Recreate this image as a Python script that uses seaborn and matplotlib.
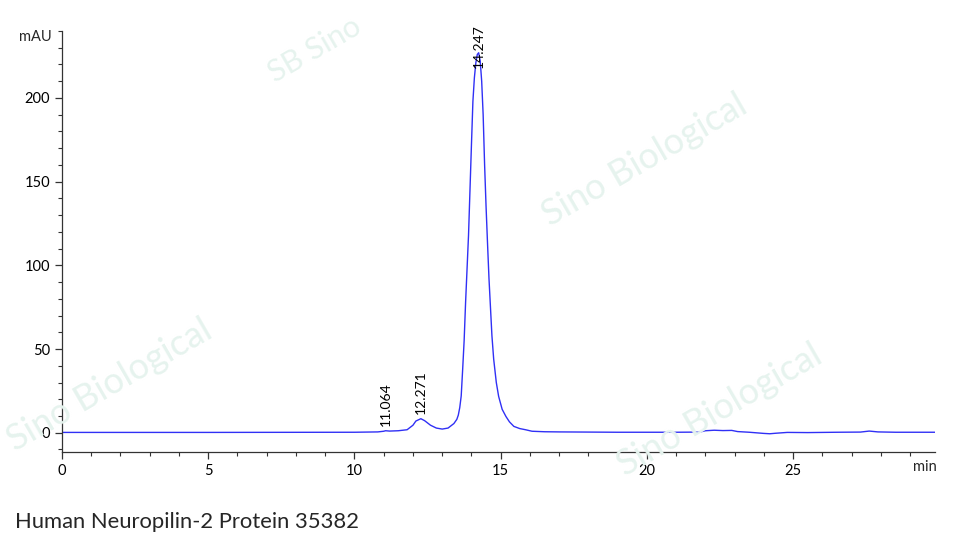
import matplotlib
matplotlib.use("Agg")
import matplotlib.pyplot as plt
import seaborn as sns
import pandas as pd
from matplotlib.ticker import MultipleLocator

# Chromatogram trace (minutes, mAU)
time_min = [0.0, 5.0, 10.0, 10.8, 11.0, 11.064, 11.2, 11.5, 11.8, 12.0, 12.1,
            12.271, 12.4, 12.6, 12.8, 13.0, 13.2, 13.4, 13.5, 13.55, 13.6,
            13.65, 13.7, 13.75, 13.8, 13.85, 13.9, 13.95, 14.0, 14.05, 14.1,
            14.15, 14.2, 14.247, 14.3, 14.35, 14.4, 14.45, 14.5, 14.55, 14.6,
            14.65, 14.7, 14.76, 14.85, 14.93, 15.05, 15.18, 15.3, 15.45, 15.65,
            15.85, 16.07, 16.5, 17.0, 18.0, 19.0, 20.0, 21.0, 21.8, 22.0, 22.3,
            22.6, 22.9, 23.1, 23.5, 24.0, 24.2, 24.4, 24.8, 25.5, 26.5, 27.3,
            27.6, 27.9, 28.5, 29.9]
absorbance = [0.2, 0.2, 0.3, 0.5, 0.9, 1.2, 1.0, 1.2, 1.8, 4.5, 7.0,
              8.4, 7.2, 4.5, 2.8, 2.2, 2.8, 5.5, 8.0, 10.5, 15,
              22, 38, 55, 78, 98, 118, 145, 172, 198, 212,
              221, 226, 227, 222, 210, 190, 160, 135, 113, 92,
              75, 58, 44, 30, 21.7, 14, 9.7, 6.5, 3.8, 2.5,
              1.8, 0.9, 0.6, 0.5, 0.4, 0.3, 0.3, 0.3, 0.4, 1.2, 1.5,
              1.3, 1.4, 0.7, 0.3, -0.4, -0.6, -0.3, 0.2, 0.1, 0.3, 0.4,
              1.0, 0.5, 0.3, 0.3]

# Labelled peaks and where their labels start (mAU)
peak_times = ["11.064", "12.271", "14.247"]
label_base = [4, 11, 218]

title = "Human Neuropilin-2 Protein 35382"

sns.set_theme(style="ticks")
plt.rcParams["font.family"] = ["Lato", "DejaVu Sans"]

fig = plt.figure(figsize=(9.6, 5.45), dpi=100)
ax = fig.add_axes([62 / 960, 93 / 545, (935 - 62) / 960, (452 - 31) / 545])
ax.set_facecolor("none")

# faint watermarks
wm = dict(color="#e6f3ee", fontsize=26, rotation=30, ha="center", va="center", zorder=0)
fig.text(645 / 960, 1 - 160 / 545, "Sino Biological", **wm)
fig.text(110 / 960, 1 - 385 / 545, "Sino Biological", **wm)
fig.text(720 / 960, 1 - 410 / 545, "Sino Biological", **wm)
wm["fontsize"] = 22
fig.text(315 / 960, 1 - 50 / 545, "SB Sino", **wm)

df = pd.DataFrame({"time": time_min, "mAU": absorbance})
sns.lineplot(data=df, x="time", y="mAU", ax=ax, color="#3030f5",
             linewidth=1.0, estimator=None, sort=False)

for lbl, b in zip(peak_times, label_base):
    ax.text(float(lbl), b, lbl, rotation=90, ha="center", va="bottom",
            fontsize=10, color="black")

ax.set_xlim(0, 29.85)
ax.set_ylim(-11.5, 240)
ax.xaxis.set_major_locator(MultipleLocator(5))
ax.xaxis.set_minor_locator(MultipleLocator(1))
ax.yaxis.set_major_locator(MultipleLocator(50))
ax.yaxis.set_minor_locator(MultipleLocator(10))
ax.set_xticks([0, 5, 10, 15, 20, 25])
ax.set_xlabel("")
ax.set_ylabel("")
ax.tick_params(which="major", length=5, width=0.9, color="#333333", labelsize=10.5,
               labelcolor="black")
ax.tick_params(which="minor", length=3, width=0.8, color="#333333")
sns.despine(ax=ax)
for s in ["left", "bottom"]:
    ax.spines[s].set_color("#333333")
    ax.spines[s].set_linewidth(0.9)

fig.text(52 / 960, 1 - 37 / 545, "mAU", ha="right", va="center", fontsize=10.5)
fig.text(937 / 960, 1 - 467 / 545, "min", ha="right", va="center", fontsize=10.5)
fig.text(15 / 960, 1 - 522 / 545, title, ha="left", va="center", fontsize=15.8)

fig.savefig("out.png", dpi=100)
